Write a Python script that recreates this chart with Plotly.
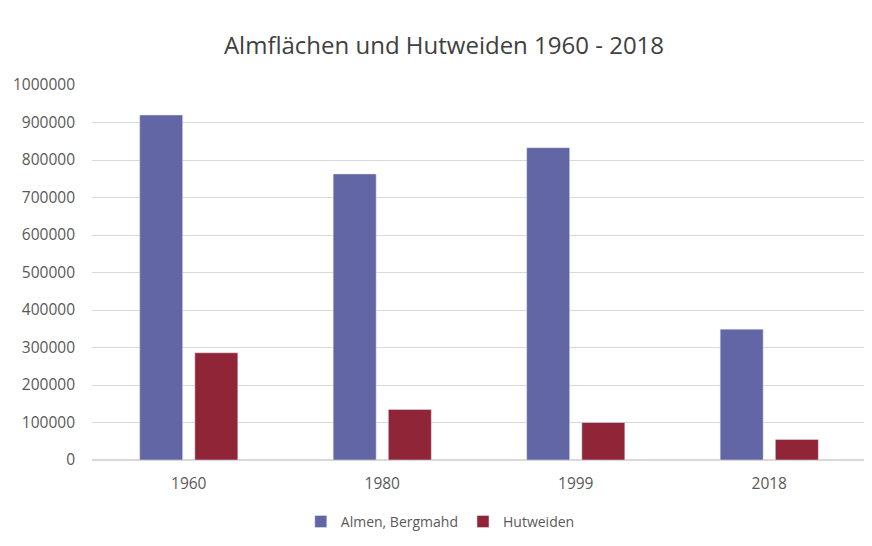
import plotly.graph_objects as go

years = ["1960", "1980", "1999", "2018"]
almen = [920000, 763000, 833000, 349000]
hutweiden = [286000, 135000, 100000, 55000]
y_ticks = [0, 100000, 200000, 300000, 400000, 500000, 600000, 700000, 800000, 900000, 1000000]

font_family = "Open Sans, Noto Sans, sans-serif"

fig = go.Figure()
fig.add_trace(go.Bar(x=years, y=almen, name="Almen, Bergmahd", marker_color="#6266A4"))
fig.add_trace(go.Bar(x=years, y=hutweiden, name="Hutweiden", marker_color="#8F2537"))

fig.update_layout(
    width=872, height=546,
    paper_bgcolor="white", plot_bgcolor="white",
    margin=dict(l=84, r=14, t=77, b=94, autoexpand=False),
    barmode="group", bargap=0.43, bargroupgap=0.22,
    title=dict(text="Almflächen und Hutweiden 1960 - 2018", x=0.5, xanchor="center",
               y=0.932, yanchor="middle",
               font=dict(family=font_family, size=24, color="#404040")),
    font=dict(family=font_family, size=15, color="#595959"),
    legend=dict(orientation="h", x=0.45, xanchor="center", y=-0.165, yanchor="middle",
                font=dict(size=14, color="#595959"), itemwidth=30, traceorder="normal"),
    showlegend=True,
)
fig.update_yaxes(range=[0, 1000000], tickvals=y_ticks, ticktext=[str(v) for v in y_ticks],
                 showgrid=True, gridcolor="#D9D9D9", gridwidth=1, zeroline=True,
                 zerolinecolor="#D9D9D9", ticklabelstandoff=16, showline=False,
                 automargin=False, tickfont=dict(size=15.5, color="#595959"))
fig.update_xaxes(showline=False, automargin=False, tickfont=dict(size=15.5, color="#595959"),
                 ticklabelstandoff=12)

fig.write_html("out.html")
